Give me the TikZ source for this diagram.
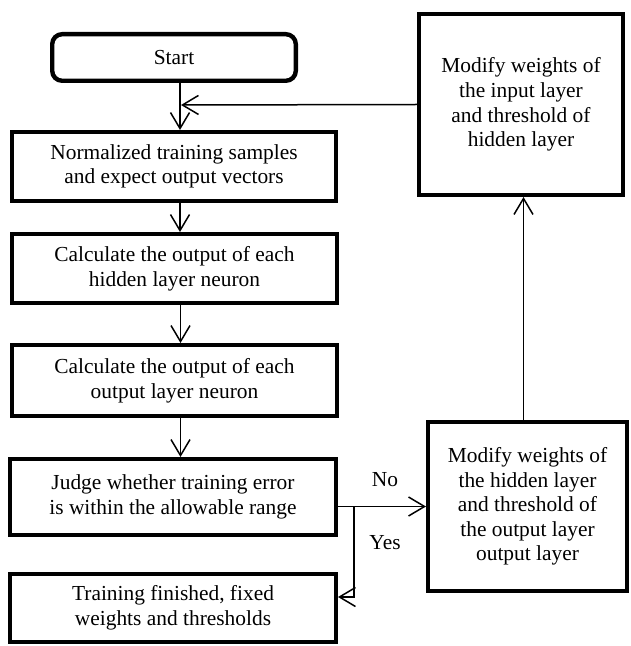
\documentclass[tikz,border=0pt]{standalone}
\usepackage{fontspec}
\setmainfont{Liberation Serif}
\usepackage{tikz}
\usetikzlibrary{arrows.meta}
\tikzset{>={Straight Barb[length=8pt,width=9.5pt]}}
\tikzset{
  box/.style={draw,line width=2.2pt,align=center,inner sep=2pt,
    font=\fontsize{10.7pt}{12.3pt}\selectfont},
  flow/.style={line width=0.75pt,->},
  lbl/.style={font=\fontsize{10.7pt}{12.3pt}\selectfont}
}

\begin{document}
\begin{tikzpicture}[x=0.5pt,y=-0.5pt]
    \useasboundingbox (0,0) rectangle (630,646);
    % main column
    \node[box,rounded corners=5pt,minimum width=121.8pt,minimum height=23.3pt] at (174,57.5) (start) {Start};
    \node[box,minimum width=161.8pt,minimum height=34.3pt] at (174,166.5) (norm) {Normalized training samples\\and expect output vectors};
    \node[box,minimum width=162.3pt,minimum height=34.3pt] at (174.5,268.5) (hid) {Calculate the output of each\\hidden layer neuron};
    \node[box,minimum width=162.3pt,minimum height=35.3pt] at (174.5,380.5) (out) {Calculate the output of each\\output layer neuron};
    \node[box,minimum width=162.8pt,minimum height=37.8pt] at (173,497) (judge) {Judge whether training error\\is within the allowable range};
    \node[box,minimum width=162.8pt,minimum height=33.8pt] at (173,608) (done) {Training finished, fixed\\weights and thresholds};
    % right column
    \node[box,minimum width=101.8pt,minimum height=90.3pt] at (521,104.5) (modin) {Modify weights of\\the input layer\\and threshold of\\hidden layer};
    \node[box,minimum width=99.3pt,minimum height=84.3pt] at (527.5,506.5) (modout) {Modify weights of\\the hidden layer\\and threshold of\\the output layer\\output layer};
    \node[lbl] at (385,480) (no) {No};
    \node[lbl] at (385,543) (yes) {Yes};

    \coordinate (join) at (181,105);
    \coordinate (split) at (354,506);

    \draw[flow] ([xshift=3pt]start.south) -- ([xshift=3pt]start.south |- norm.north);
    \draw[flow] ([xshift=3pt]norm.south) -- ([xshift=3pt]norm.south |- hid.north);
    \draw[flow] ([xshift=3pt]hid.south) -- ([xshift=3pt]hid.south |- out.north);
    \draw[flow] ([xshift=3pt]out.south) -- ([xshift=3pt]out.south |- judge.north);
    \draw[flow] (judge.east |- modout.west) -- (modout.west);
    \draw[flow] (split) |- ([yshift=5.5pt]done.east);
    \draw[flow] ([xshift=-2pt]modout.north) -- ([xshift=-2pt]modout.north |- modin.south);
    \draw[flow] (modin.west) -- (join);
\end{tikzpicture}
\end{document}
